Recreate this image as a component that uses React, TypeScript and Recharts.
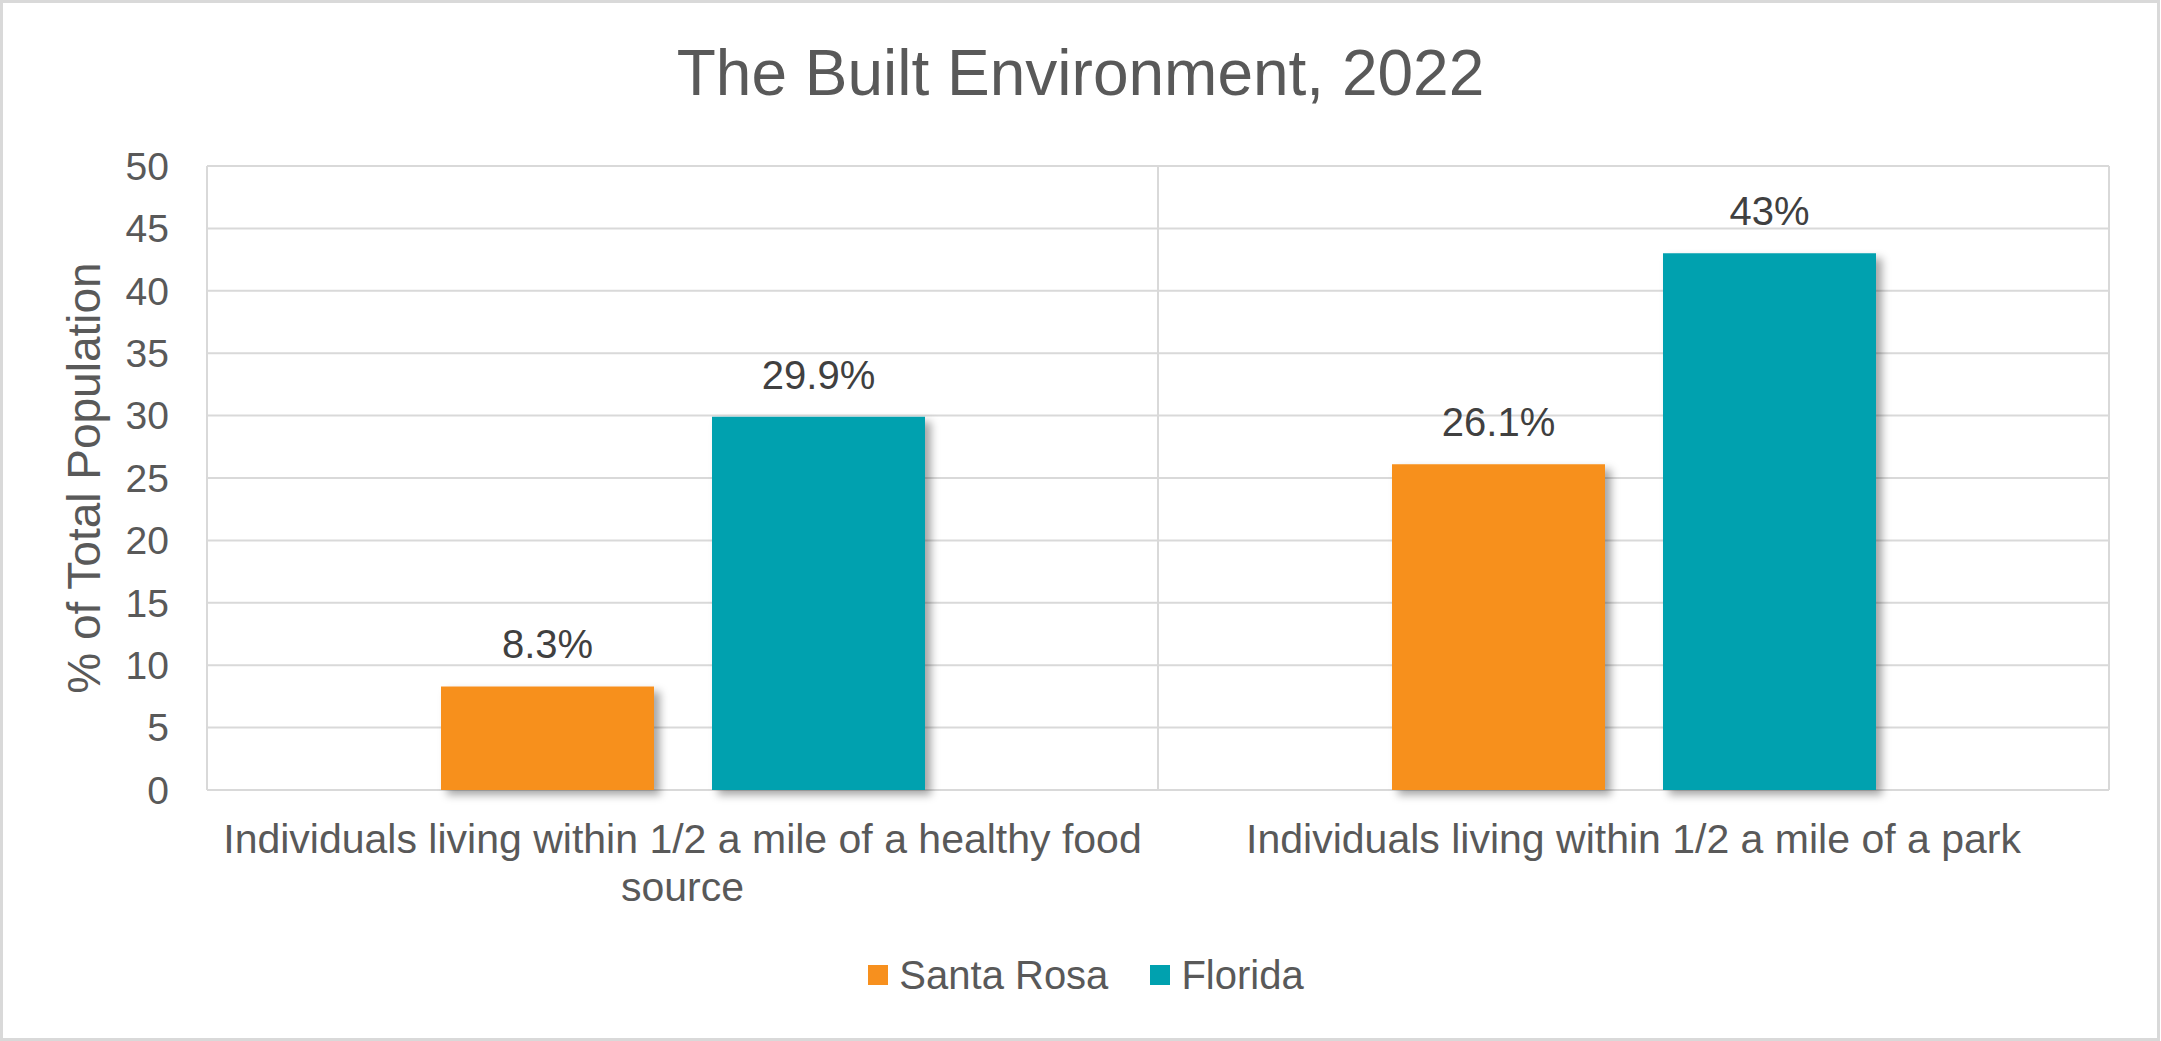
import React from 'react';
import { BarChart, Bar, XAxis, YAxis, CartesianGrid, Legend, LabelList, Label } from 'recharts';

const FONT = '"Liberation Sans", Arial, Helvetica, sans-serif';

const chartTitle = 'The Built Environment, 2022';
const yAxisTitle = '% of Total Population';
const categories = [
  'Individuals living within 1/2 a mile of a healthy food source',
  'Individuals living within 1/2 a mile of a park',
];
const seriesNames = ['Santa Rosa', 'Florida'];
const santaRosaValues = [8.3, 26.1];
const floridaValues = [29.9, 43];
const yTicks = [0, 5, 10, 15, 20, 25, 30, 35, 40, 45, 50];

const COLORS = ['#F7901E', '#00A1AF'];

const data = categories.map((c, i) => ({
  category: c,
  santaRosa: santaRosaValues[i],
  florida: floridaValues[i],
}));

const W = 2161;
const H = 1041;
const CAT_FONT_SIZE = 41;

let measureCtx: CanvasRenderingContext2D | null = null;
function measure(s: string): number {
  if (!measureCtx && typeof document !== 'undefined') {
    measureCtx = document.createElement('canvas').getContext('2d');
  }
  if (!measureCtx) return s.length * CAT_FONT_SIZE * 0.5;
  measureCtx.font = `${CAT_FONT_SIZE}px "Liberation Sans", Arial, sans-serif`;
  return measureCtx.measureText(s).width;
}

function wrapText(text: string, maxWidth: number): string[] {
  const words = text.split(' ');
  const lines: string[] = [];
  let cur = '';
  words.forEach((w) => {
    const next = cur ? `${cur} ${w}` : w;
    if (cur && measure(next) > maxWidth) {
      lines.push(cur);
      cur = w;
    } else {
      cur = next;
    }
  });
  if (cur) lines.push(cur);
  return lines;
}

const CategoryTick = (props: any) => {
  const { x, y, payload } = props;
  const lines = wrapText(String(payload.value), 945);
  return (
    <text
      x={x}
      y={y + 63}
      textAnchor="middle"
      fill="#595959"
      fontSize={CAT_FONT_SIZE}
      fontFamily={FONT}
    >
      {lines.map((l, i) => (
        <tspan key={i} x={x} dy={i === 0 ? 0 : 48}>
          {l}
        </tspan>
      ))}
    </text>
  );
};

const YTitle = (props: any) => {
  const vb = props.viewBox || { x: 0, y: 166, width: 207, height: 624 };
  const cy = vb.y + vb.height / 2;
  return (
    <text
      x={0}
      y={0}
      transform={`translate(100, ${cy}) rotate(-90)`}
      textAnchor="middle"
      fill="#595959"
      fontSize={46}
      fontFamily={FONT}
    >
      {yAxisTitle}
    </text>
  );
};

const LegendContent = (props: any) => {
  const payload = [...(props.payload || [])].sort(
    (a: any, b: any) => seriesNames.indexOf(a.value) - seriesNames.indexOf(b.value)
  );
  return (
    <div
      style={{
        display: 'flex',
        justifyContent: 'center',
        alignItems: 'center',
        height: 50,
        paddingLeft: 11,
        fontFamily: FONT,
      }}
    >
      {payload.map((p: any, i: number) => (
        <div
          key={i}
          style={{ display: 'flex', alignItems: 'center', marginRight: i < payload.length - 1 ? 42 : 0 }}
        >
          <div style={{ width: 20, height: 20, background: p.color, marginRight: 11 }} />
          <span style={{ fontSize: 40, color: '#595959', lineHeight: '44px' }}>{p.value}</span>
        </div>
      ))}
    </div>
  );
};

const gridVertical = ({ offset }: any) => [
  offset.left,
  offset.left + offset.width / 2,
  offset.left + offset.width,
];

export default function App() {
  return (
    <div style={{ position: 'absolute', left: 0, top: 0, width: W, height: H, background: '#fff' }}>
      <div
        style={{
          position: 'absolute',
          left: 0,
          top: 0,
          width: 2160,
          height: H,
          border: '3px solid #d9d9d9',
          boxSizing: 'border-box',
        }}
      />
      <div
        style={{
          position: 'absolute',
          left: 0,
          top: 41,
          width: W,
          textAlign: 'center',
          fontFamily: FONT,
          fontSize: 64,
          lineHeight: '64px',
          color: '#595959',
        }}
      >
        {chartTitle}
      </div>
      <div style={{ position: 'absolute', left: 0, top: 0 }}>
        <BarChart
          width={W}
          height={H}
          data={data}
          margin={{ top: 166, right: 52, bottom: 41, left: 0 }}
          barSize={213}
          barGap={58}
        >
          <defs>
            <filter id="barShadow" x="-20%" y="-20%" width="150%" height="150%">
              <feDropShadow dx="6" dy="5" stdDeviation="4" floodColor="#000" floodOpacity="0.35" />
            </filter>
          </defs>
          <CartesianGrid
            stroke="#d9d9d9"
            strokeWidth={2}
            verticalCoordinatesGenerator={gridVertical}
          />
          <XAxis
            dataKey="category"
            height={160}
            tickLine={false}
            axisLine={false}
            tickSize={0}
            tickMargin={0}
            interval={0}
            tick={<CategoryTick />}
          />
          <YAxis
            width={207}
            domain={[0, 50]}
            ticks={yTicks}
            tickLine={false}
            axisLine={false}
            tickSize={0}
            tickMargin={38}
            interval={0}
            tick={{ fill: '#595959', fontSize: 39, fontFamily: FONT }}
          >
            <Label content={<YTitle />} />
          </YAxis>
          <Legend
            verticalAlign="bottom"
            itemSorter={null as any}
            content={<LegendContent />}
            wrapperStyle={{ left: 0, width: W, bottom: 41, height: 50 }}
          />
          <Bar
            dataKey="santaRosa"
            name={seriesNames[0]}
            fill={COLORS[0]}
            filter="url(#barShadow)"
            isAnimationActive={false}
          >
            <LabelList
              dataKey="santaRosa"
              position="top"
              offset={28}
              formatter={(v: any) => `${v}%`}
              fill="#404040"
              fontSize={40}
              fontFamily={FONT}
            />
          </Bar>
          <Bar
            dataKey="florida"
            name={seriesNames[1]}
            fill={COLORS[1]}
            filter="url(#barShadow)"
            isAnimationActive={false}
          >
            <LabelList
              dataKey="florida"
              position="top"
              offset={28}
              formatter={(v: any) => `${v}%`}
              fill="#404040"
              fontSize={40}
              fontFamily={FONT}
            />
          </Bar>
        </BarChart>
      </div>
    </div>
  );
}
